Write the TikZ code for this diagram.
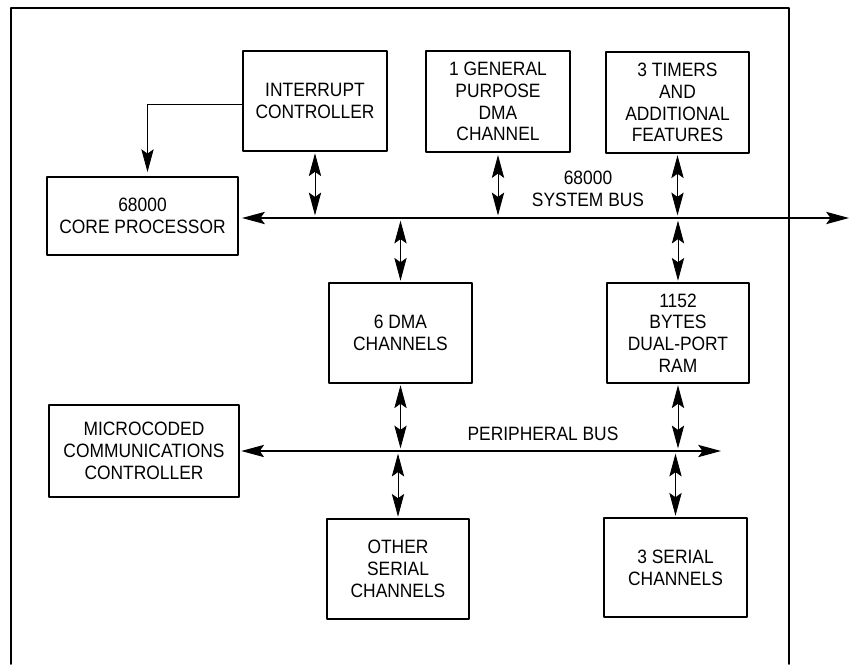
\documentclass[tikz,border=0pt]{standalone}
\usepackage{fontspec}
\setmainfont{Liberation Sans}[FakeStretch=0.9]
\usetikzlibrary{arrows.meta}

\begin{document}
\begin{tikzpicture}[line cap=round,line join=round,x=0.02cm,y=-0.02cm,
		>={Stealth[length=13pt,width=7pt,inset=2.5pt]},
		blockbox/.style={draw,line width=0.6pt,inner sep=0pt,align=center,font=\fontsize{11}{12.4}\selectfont},
		buslabel/.style={align=center,inner sep=0pt,font=\fontsize{11}{12.4}\selectfont},
		link/.style={line width=0.5pt,<->,shorten <=1pt,shorten >=1.5pt}]
		\useasboundingbox (0,0) rectangle (849,664);
		% outer frame, open at the bottom
		\draw [line width=1.1pt] (11,664)-- (11,8)-- (789,8)-- (789,664);
		% top row
		\node[blockbox,minimum width=2.88cm,minimum height=2cm] (intr) at (315,101) {INTERRUPT\\CONTROLLER};
		\node[blockbox,line width=1.5pt,minimum width=2.88cm,minimum height=2.02cm] (gpdma) at (498,101.5) {1 GENERAL\\PURPOSE\\DMA\\CHANNEL};
		\node[blockbox,minimum width=2.86cm,minimum height=2.02cm] (timers) at (677.5,102.5) {3 TIMERS\\AND\\ADDITIONAL\\FEATURES};
		\node[blockbox,minimum width=3.82cm,minimum height=1.56cm] (core) at (142.5,216) {68000\\CORE PROCESSOR};
		% middle row
		\node[blockbox,minimum width=2.86cm,minimum height=2cm] (dmasix) at (400.5,333) {6 DMA\\CHANNELS};
		\node[blockbox,minimum width=2.84cm,minimum height=2cm] (ram) at (678,333) {1152\\BYTES\\DUAL-PORT\\RAM};
		\node[blockbox,minimum width=3.8cm,minimum height=1.84cm] (micro) at (144,451) {MICROCODED\\COMMUNICATIONS\\CONTROLLER};
		% bottom row
		\node[blockbox,minimum width=2.84cm,minimum height=2cm] (other) at (398,569) {OTHER\\SERIAL\\CHANNELS};
		\node[blockbox,minimum width=2.86cm,minimum height=1.98cm] (serial) at (675.5,567.5) {3 SERIAL\\CHANNELS};
		% buses
		\coordinate (sysbus) at (849,218);
		\coordinate (perbus) at (721,451);
		\draw [line width=0.6pt,<->,shorten <=2pt] (core.east |- sysbus)-- (sysbus);
		\draw [line width=0.6pt,<->,shorten <=1pt] (micro.east |- perbus)-- (perbus);
		\node[buslabel] (sblabel) at (588,189) {68000\\SYSTEM BUS};
		\node[buslabel] (pblabel) at (543,434) {PERIPHERAL BUS};
		% interrupt line
		\draw [line width=0.5pt,->,shorten >=2.5pt] ([yshift=-0.06cm]intr.west)-| ([xshift=0.1cm]core.north);
		% links to the buses
		\draw [link] (intr.south)-- (intr.south |- sysbus);
		\draw [link] (gpdma.south)-- (gpdma.south |- sysbus);
		\draw [link] (timers.south)-- (timers.south |- sysbus);
		\draw [link] (dmasix.north)-- (dmasix.north |- sysbus);
		\draw [link] (ram.north)-- (ram.north |- sysbus);
		\draw [link] (dmasix.south)-- (dmasix.south |- perbus);
		\draw [link] (ram.south)-- (ram.south |- perbus);
		\draw [link] (other.north)-- (other.north |- perbus);
		\draw [link] (serial.north)-- (serial.north |- perbus);
	\end{tikzpicture}
\end{document}
